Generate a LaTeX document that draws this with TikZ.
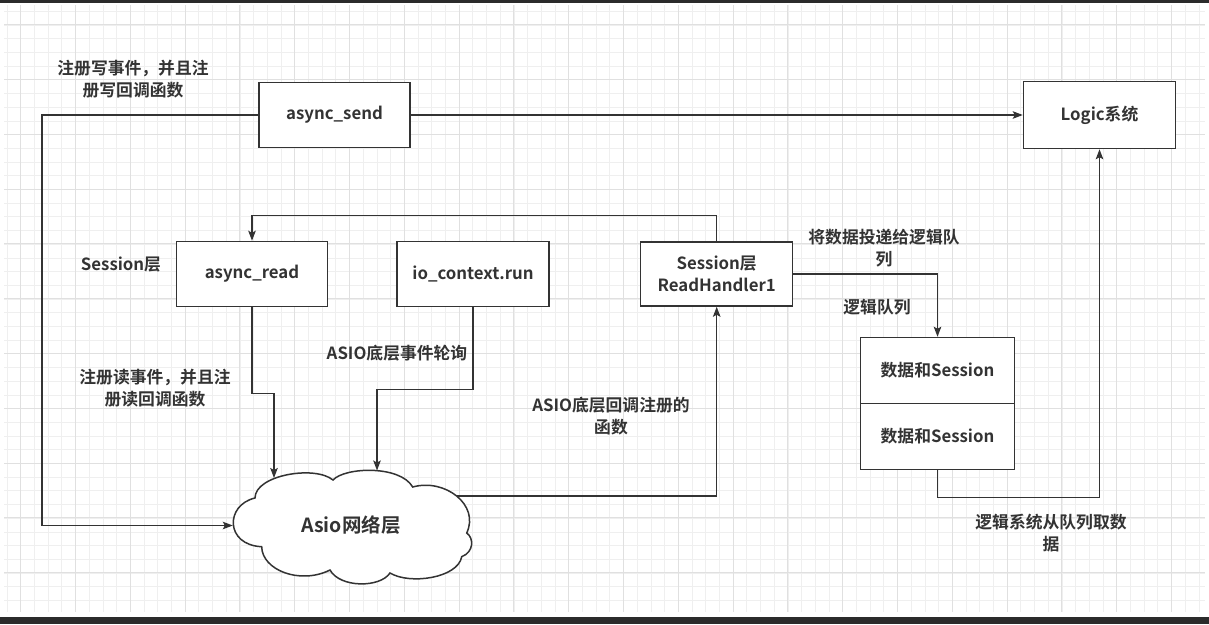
\documentclass[tikz,border=0pt]{standalone}
\usepackage{fontspec}
\setmainfont{Noto Sans CJK SC}[BoldFont={Noto Sans CJK SC Bold}]
\usepackage{tikz}
\usetikzlibrary{arrows.meta}
\definecolor{ink}{HTML}{333333}
\definecolor{gridminor}{HTML}{EFEFEF}
\definecolor{gridmajor}{HTML}{E0E0E0}
\definecolor{shot}{HTML}{2B2B2B}
\tikzstyle{Box}=[rectangle, draw=ink, line width=1.5pt, fill=white, minimum width=151, minimum height=65, align=center]
\tikzstyle{Label}=[align=center]
\tikzstyle{Flow}=[draw=ink, line width=1.4pt, -{Stealth[length=10pt,width=7.5pt,inset=2pt]}]

\begin{document}
\begin{tikzpicture}[x=1pt, y=-1pt, every node/.style={font=\bfseries\fontsize{16.8}{22}\selectfont, text=ink}]
    \useasboundingbox (0,0) rectangle (1209,624);
    \fill[white] (0,0) rectangle (1209,624);
    % grid
    \foreach \i in {0,...,87} \draw[gridminor, line width=0.8pt] (7+13.7*\i,5) -- (7+13.7*\i,612);
    \foreach \k in {0,...,43} \draw[gridminor, line width=0.8pt] (4,11.3+13.7*\k) -- (1205,11.3+13.7*\k);
    \foreach \j in {0,...,21} \draw[gridmajor, line width=0.9pt] (20.7+54.8*\j,5) -- (20.7+54.8*\j,612);
    \foreach \j in {0,...,10} \draw[gridmajor, line width=0.9pt] (4,24.7+54.8*\j) -- (1205,24.7+54.8*\j);
    \fill[shot] (0,0) rectangle (1209,2.5);
    \fill[shot] (0,616.5) rectangle (1209,624);

    \path
    (334.5,115) node[Box] (send) {async\_send}
    (1099.5,115) node[Box, minimum width=152, minimum height=67] (logic) {Logic系统}
    (252,274) node[Box] (read) {async\_read}
    (473,274) node[Box, minimum width=152] (ioctx) {io\_context.run}
    (716.7,274) node[Box, minimum width=152, minimum height=64] (handler) {Session层\\ReadHandler1}
    (937.5,370.5) node[Box, minimum width=154, minimum height=66] (dataA) {数据和Session}
    (937.5,436.5) node[Box, minimum width=154, minimum height=66] (dataB) {数据和Session};

    % cloud
    \draw[ink, line width=1.5pt, fill=white] (255,498) .. controls (255,475) and (315,465) .. (333,480)
        .. controls (345,467) and (400,465) .. (412.7,487)
        .. controls (445,478) and (480,505) .. (466.7,533)
        .. controls (474,538) and (474,552) .. (461.7,556.7)
        .. controls (458,578) and (410,585) .. (390,573)
        .. controls (380,588) and (340,588) .. (330,570)
        .. controls (300,585) and (262,570) .. (261.7,546.7)
        .. controls (225,545) and (225,505) .. cycle;
    \path (351,525.5) node[minimum width=236, minimum height=112, font=\bfseries\fontsize{19.5}{24}\selectfont] (net) {Asio网络层};
    \coordinate (sendbend) at (42,115);
    \coordinate (netA) at (274,478);
    \coordinate (netB) at (377,470.5);
    \coordinate (netE) at (457,496);

    \path (133,79) node[Label] (lblwrite) {注册写事件，并且注\\册写回调函数}
    (121,265) node[Label] (lblsession) {Session层}
    (155,388) node[Label] (lblread) {注册读事件，并且注\\册读回调函数}
    (397,353) node[Label] (lblpoll) {ASIO底层事件轮询}
    (611,416) node[Label] (lblcallback) {ASIO底层回调注册的\\函数}
    (884,248) node[Label] (lblpost) {将数据投递给逻辑队\\列}
    (877,307) node[Label] (lblqueue) {逻辑队列}
    (1051,533) node[Label] (lblfetch) {逻辑系统从队列取数\\据};

    \draw[Flow] (send.west) -- (sendbend) |- (net.west);
    \draw[Flow] (send) -- (logic);
    \draw[Flow] (handler.north) -- ++(0,-26) -| (read.north);
    \draw[Flow] (read.south) -- ++(0,86) -| (netA);
    \draw[Flow] (ioctx.south) -- ++(0,82) -| (netB);
    \draw[Flow] (netE) -| (handler.south);
    \draw[Flow] (handler.east) -| (dataA.north);
    \draw[Flow] (dataB.south) -- ++(0,27) -| (logic.south);
\end{tikzpicture}
\end{document}
